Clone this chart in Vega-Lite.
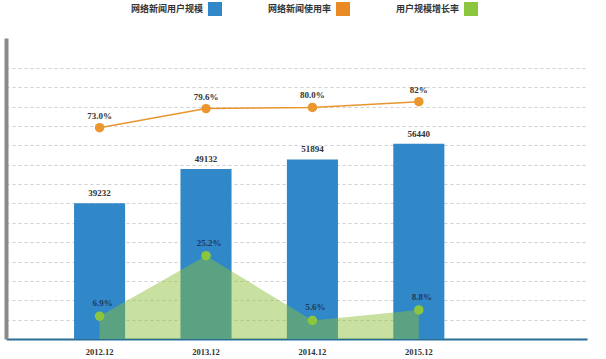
{
  "$schema": "https://vega.github.io/schema/vega-lite/v6.json",
  "width": 581,
  "height": 301,
  "autosize": {"type": "none"},
  "padding": {"left": 6, "top": 38, "right": 19, "bottom": 20},
  "background": "white",
  "config": {"view": {"stroke": null}},
  "data": {
    "values": [
      {"period": "2012.12", "users": 39232, "usage": 73.0, "usage_label": "73.0%", "growth": 6.9, "growth_label": "6.9%"},
      {"period": "2013.12", "users": 49132, "usage": 79.6, "usage_label": "79.6%", "growth": 25.2, "growth_label": "25.2%"},
      {"period": "2014.12", "users": 51894, "usage": 80.0, "usage_label": "80.0%", "growth": 5.6, "growth_label": "5.6%"},
      {"period": "2015.12", "users": 56440, "usage": 82.0, "usage_label": "82%", "growth": 8.8, "growth_label": "8.8%"}
    ]
  },
  "encoding": {
    "x": {
      "field": "period",
      "type": "ordinal",
      "sort": null,
      "scale": {"paddingInner": 0.52, "paddingOuter": 0.99, "align": 0.323},
      "axis": {
        "title": null,
        "labelAngle": 0,
        "ticks": false,
        "labelPadding": 8,
        "labelFont": "Liberation Sans Narrow",
        "labelFontSize": 8.5,
        "labelFontWeight": "bold",
        "labelColor": "#333333",
        "domainColor": "#2a6e96",
        "domainWidth": 2,
        "grid": false
      }
    }
  },
  "layer": [
    {
      "mark": {"type": "bar"},
      "encoding": {
        "y": {
          "field": "users",
          "type": "quantitative",
          "scale": {"domain": [0, 87000], "nice": false},
          "axis": {
            "title": null,
            "labels": false,
            "ticks": false,
            "domainColor": "#8a8a8a",
            "domainWidth": 4,
            "grid": true,
            "gridColor": "#cfcfcf",
            "gridDash": [3, 3],
            "gridWidth": 1,
            "values": [5600, 11200, 16800, 22400, 28000, 33600, 39200, 44800, 50400, 56000, 61600, 67200, 72800, 78400]
          }
        },
        "color": {
          "datum": "网络新闻用户规模",
          "type": "nominal",
          "scale": {
            "domain": ["网络新闻用户规模", "网络新闻使用率", "用户规模增长率"],
            "range": ["#3188c8", "#ea8a24", "#8cc63e"]
          },
          "legend": {
            "orient": "none",
            "legendX": 202,
            "legendY": -36,
            "direction": "horizontal",
            "title": null,
            "symbolType": "square",
            "symbolSize": 196,
            "symbolStrokeWidth": 0,
            "symbolOpacity": 1,
            "labelAlign": "right",
            "labelOffset": -19,
            "labelFont": "Noto Sans CJK SC",
            "labelFontSize": 9,
            "labelFontWeight": "bold",
            "labelColor": "#333333",
            "columnPadding": 45,
            "padding": 0
          }
        }
      }
    },
    {
      "mark": {"type": "text", "baseline": "bottom", "dy": -5, "font": "Liberation Serif", "fontSize": 9, "fontWeight": "bold", "color": "#333333"},
      "encoding": {
        "y": {"field": "users", "type": "quantitative", "scale": {"domain": [0, 87000], "nice": false}, "axis": null},
        "text": {"field": "users", "type": "quantitative", "format": "d"}
      }
    },
    {
      "mark": {"type": "area", "color": "#8abf35", "opacity": 0.47},
      "encoding": {
        "y": {"field": "growth", "type": "quantitative", "scale": {"domain": [0, 91], "nice": false}, "axis": null}
      }
    },
    {
      "mark": {"type": "point", "filled": true, "size": 90, "color": "#8cc63e", "opacity": 1},
      "encoding": {
        "y": {"field": "growth", "type": "quantitative", "scale": {"domain": [0, 91], "nice": false}, "axis": null}
      }
    },
    {
      "mark": {"type": "text", "baseline": "bottom", "dy": -8, "dx": 3, "font": "Liberation Serif", "fontSize": 9, "fontWeight": "bold", "color": "#1f3a5f"},
      "encoding": {
        "y": {"field": "growth", "type": "quantitative", "scale": {"domain": [0, 91], "nice": false}, "axis": null},
        "text": {"field": "growth_label", "type": "nominal"}
      }
    },
    {
      "mark": {"type": "line", "color": "#e8952f", "strokeWidth": 1.5},
      "encoding": {
        "y": {"field": "usage", "type": "quantitative", "scale": {"domain": [0, 104], "nice": false}, "axis": null}
      }
    },
    {
      "mark": {"type": "point", "filled": true, "size": 90, "color": "#eb962e", "opacity": 1},
      "encoding": {
        "y": {"field": "usage", "type": "quantitative", "scale": {"domain": [0, 104], "nice": false}, "axis": null}
      }
    },
    {
      "mark": {"type": "text", "baseline": "bottom", "dy": -7, "font": "Liberation Serif", "fontSize": 9, "fontWeight": "bold", "color": "#333333"},
      "encoding": {
        "y": {"field": "usage", "type": "quantitative", "scale": {"domain": [0, 104], "nice": false}, "axis": null},
        "text": {"field": "usage_label", "type": "nominal"}
      }
    }
  ],
  "resolve": {"scale": {"y": "independent"}, "axis": {"y": "independent"}}
}
